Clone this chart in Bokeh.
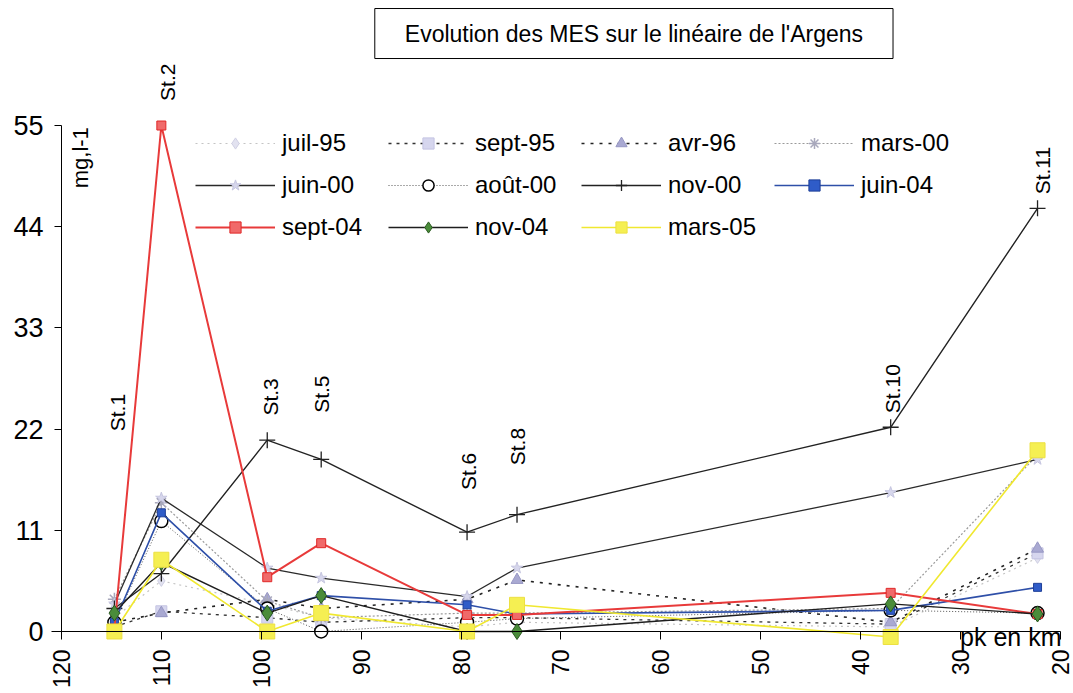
import math
from bokeh.plotting import figure
from bokeh.models import Range1d, LinearAxis, FixedTicker, Legend, LegendItem, Label
from bokeh.core.properties import value
from bokeh.embed import file_html
from bokeh.resources import INLINE

# Stations along the Argens (kilometre point, "pk")
stations = ["St.1", "St.2", "St.3", "St.5", "St.6", "St.8", "St.10", "St.11"]
pk_km = [114.7, 110.0, 99.4, 94.0, 79.4, 74.4, 37.0, 22.3]

# Suspended matter (MES), mg/l, one list per sampling campaign
juil_95 = [1.5, 5.5, 3.0, 1.5, 0.5, 1.0, 0.5, 8.0]
sept_95 = [0.5, 2.2, 1.5, 1.0, 1.5, 1.5, 0.8, 8.5]
avr_96 = [1.0, 2.0, 3.5, 2.5, 3.5, 5.6, 1.0, 9.0]
mars_00 = [3.5, 14.0, 3.3, 1.5, 2.0, 2.0, 2.5, 19.2]
juin_00 = [3.0, 14.5, 6.9, 5.8, 3.8, 6.9, 15.1, 18.7]
aout_00 = [1.0, 12.0, 2.5, 0.0, 1.0, 1.4, 2.3, 2.0]
nov_00 = [2.5, 6.3, 20.8, 18.7, 10.8, 12.7, 22.2, 46.0]
juin_04 = [1.0, 12.9, 2.2, 3.9, 2.9, 1.9, 2.3, 4.8]
sept_04 = [0.3, 55.0, 5.9, 9.6, 1.8, 1.8, 4.2, 1.9]
nov_04 = [2.0, 7.5, 2.0, 3.9, 0.0, 0.0, 3.0, 1.9]
mars_05 = [0.0, 7.8, 0.0, 2.0, 0.0, 2.9, -0.6, 19.7]

y_ticks = [0, 11, 22, 33, 44, 55]
x_ticks = [120, 110, 100, 90, 80, 70, 60, 50, 40, 30, 20]

FONT = "Liberation Sans"

# km axis runs from upstream (left) to downstream (right)
p = figure(width=1073, height=693,
           x_range=Range1d(126.1, 18.7), y_range=Range1d(-6.74, 68.59),
           x_axis_type=None, y_axis_type=None,
           output_backend="svg", toolbar_location=None,
           min_border=0, outline_line_color=None)
p.grid.visible = False
p.background_fill_color = "white"

yaxis = LinearAxis(fixed_location=120, ticker=FixedTicker(ticks=y_ticks),
                   bounds=(0, 55), major_tick_out=7, major_tick_in=0,
                   minor_tick_out=0, minor_tick_in=0,
                   major_label_standoff=11,
                   major_label_text_font=FONT,
                   major_label_text_font_size="27px",
                   major_label_text_color="black",
                   axis_line_color="black", major_tick_line_color="black")
p.add_layout(yaxis, "left")

xaxis = LinearAxis(fixed_location=0, ticker=FixedTicker(ticks=x_ticks),
                   bounds=(20, 121), major_tick_out=8, major_tick_in=0,
                   minor_tick_out=0, minor_tick_in=0,
                   major_label_orientation=math.pi / 2,
                   major_label_standoff=10,
                   major_label_text_font=FONT,
                   major_label_text_font_size="23px",
                   major_label_text_color="black",
                   axis_line_color="black", major_tick_line_color="black")
p.add_layout(xaxis, "below")

series = [
    ("juil-95", juil_95, dict(line_color="#c4c4c4", line_width=1.2, line_dash="2 4"),
     dict(marker="diamond", size=11, fill_color="#e2e2f0", line_color="#d0d0e4")),
    ("sept-95", sept_95, dict(line_color="#333333", line_width=1.3, line_dash="3 5"),
     dict(marker="square", size=11, fill_color="#d6d6ee", line_color="#c4c4e2")),
    ("avr-96", avr_96, dict(line_color="#222222", line_width=1.6, line_dash="3 6"),
     dict(marker="triangle", size=12, fill_color="#a9a9d2", line_color="#9898c4")),
    ("mars-00", mars_00, dict(line_color="#9a9a9a", line_width=1.2, line_dash="2 2"),
     dict(marker="asterisk", size=13, fill_color=None, line_color="#a8a8bc", line_width=1.5)),
    ("juin-00", juin_00, dict(line_color="#2a2a2a", line_width=1.3),
     dict(marker="star", size=12, fill_color="#d6d6ec", line_color="#c6c6e0")),
    ("août-00", aout_00, dict(line_color="#555555", line_width=1.0, line_dash="1 2"),
     dict(marker="circle", size=13, fill_color="white", line_color="black", line_width=1.5)),
    ("nov-00", nov_00, dict(line_color="#222222", line_width=1.4),
     dict(marker="cross", size=16, fill_color=None, line_color="#222222", line_width=1.3)),
    ("juin-04", juin_04, dict(line_color="#2e4fa8", line_width=1.6),
     dict(marker="square", size=8, fill_color="#2f5cc8", line_color="#1e3f98")),
    ("sept-04", sept_04, dict(line_color="#e83a3a", line_width=2.0),
     dict(marker="square", size=9, fill_color="#f06a6a", line_color="#e02828")),
    ("nov-04", nov_04, dict(line_color="#1e1e1e", line_width=1.4),
     dict(marker="diamond", size=16, fill_color="#4a8c3a", line_color="#2a5a20")),
    ("mars-05", mars_05, dict(line_color="#f0e830", line_width=1.6),
     dict(marker="square", size=15, fill_color="#f5ef52", line_color="#ece042")),
]

items = []
for name, vals, lstyle, mstyle in series:
    lr = p.line(pk_km, vals, **lstyle)
    mr = p.scatter(pk_km, vals, **mstyle)
    items.append(LegendItem(label=name, renderers=[lr, mr]))

legend = Legend(items=items, location=(195, 452), orientation="horizontal", ncols=4,
                glyph_width=80, glyph_height=28, label_width=92, label_height=28,
                label_standoff=7, spacing=14, padding=0, margin=0,
                border_line_color=None, background_fill_alpha=0,
                label_text_font=FONT, label_text_font_size="24px",
                label_text_color="black")
p.add_layout(legend)

# Station names written vertically above each sampling point
label_heights = [23.8, 59.7, 25.5, 25.8, 17.4, 20.1, 26.4, 50.1]
label_dx = [3, 6, 3, 0, 1, 0, 2, 5]
p.text(x=pk_km, y=label_heights, text=stations, angle=math.pi / 2,
       x_offset=label_dx, text_align="center", text_baseline="middle",
       text_font=value(FONT), text_font_size="21px", text_color="black")

# Axis captions
p.add_layout(Label(x=118.1, y=51.5, text="mg,l-1", angle=math.pi / 2,
                   text_align="center", text_baseline="middle",
                   text_font=FONT, text_font_size="22px", text_color="black"))
p.add_layout(Label(x=19.9, y=-0.55, text="pk en km",
                   text_align="right", text_baseline="middle",
                   text_font=FONT, text_font_size="25px", text_color="black"))

# Boxed chart title
p.add_layout(Label(x=62.7, y=65.0, text="Evolution des MES sur le linéaire de l'Argens",
                   text_align="center", text_baseline="middle",
                   text_font=FONT, text_font_size="23px", text_color="black",
                   border_line_color="black", border_line_width=1,
                   background_fill_color="white",
                   padding=dict(left=30, right=30, top=12, bottom=12)))

open("out.html", "w").write(file_html(p, INLINE))
